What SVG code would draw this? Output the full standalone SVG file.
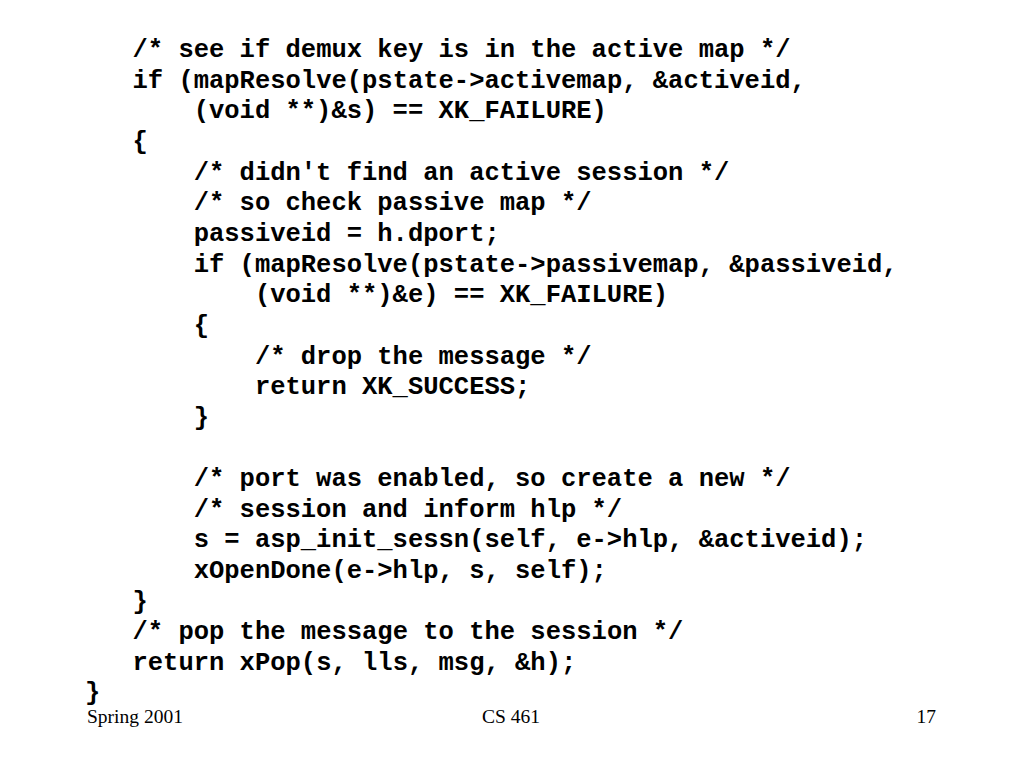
<svg xmlns="http://www.w3.org/2000/svg" width="1024" height="768" viewBox="0 0 1024 768">
<style>
.c{font-family:"Liberation Mono","Courier New",monospace;font-weight:bold;font-size:25.5px;fill:#000;white-space:pre}
.f{font-family:"Liberation Serif","Times New Roman",serif;font-size:19.5px;fill:#000}
</style>
<rect width="1024" height="768" fill="#fff"/>
<g id="code">
<text class="c" x="132.5" y="57">/* see if demux key is in the active map */</text>
<text class="c" x="132.5" y="87.65">if (mapResolve(pstate-&gt;activemap, &amp;activeid,</text>
<text class="c" x="193.7" y="118.3">(void **)&amp;s) == XK_FAILURE)</text>
<text class="c" x="132.5" y="148.95">{</text>
<text class="c" x="193.7" y="179.6">/* didn't find an active session */</text>
<text class="c" x="193.7" y="210.25">/* so check passive map */</text>
<text class="c" x="193.7" y="240.9">passiveid = h.dport;</text>
<text class="c" x="193.7" y="271.55">if (mapResolve(pstate-&gt;passivemap, &amp;passiveid,</text>
<text class="c" x="254.9" y="302.2">(void **)&amp;e) == XK_FAILURE)</text>
<text class="c" x="193.7" y="332.85">{</text>
<text class="c" x="254.9" y="363.5">/* drop the message */</text>
<text class="c" x="254.9" y="394.15">return XK_SUCCESS;</text>
<text class="c" x="193.7" y="424.8">}</text>
<text class="c" x="193.7" y="486.1">/* port was enabled, so create a new */</text>
<text class="c" x="193.7" y="516.75">/* session and inform hlp */</text>
<text class="c" x="193.7" y="547.4">s = asp_init_sessn(self, e-&gt;hlp, &amp;activeid);</text>
<text class="c" x="193.7" y="578.05">xOpenDone(e-&gt;hlp, s, self);</text>
<text class="c" x="132.5" y="608.7">}</text>
<text class="c" x="132.5" y="639.35">/* pop the message to the session */</text>
<text class="c" x="132.5" y="670">return xPop(s, lls, msg, &amp;h);</text>
<text class="c" x="85" y="699.5">}</text>
</g>
<g id="footer">
<text class="f" x="87" y="723">Spring 2001</text>
<text class="f" x="511" y="723" text-anchor="middle">CS 461</text>
<text class="f" x="936" y="723" text-anchor="end">17</text>
</g>
</svg>
